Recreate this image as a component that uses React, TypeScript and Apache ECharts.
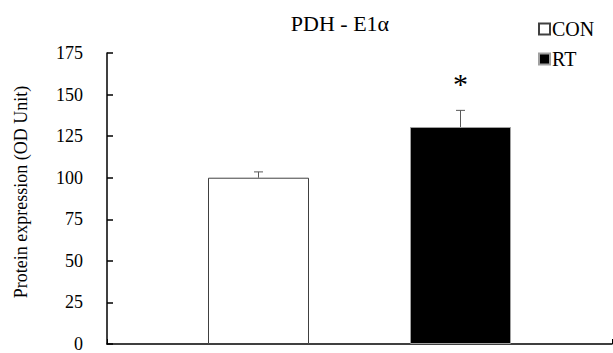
import React, { useEffect, useRef } from "react";
import * as echarts from "echarts";

const groups = ["CON", "RT"];
const means = [100, 130.5];
const errors = [3.5, 10];
const significant = [false, true];
const yMin = 0;
const yMax = 175;
const yStep = 25;
const titleText = "PDH - E1α";
const yName = "Protein expression (OD Unit)";

const FONT = "Liberation Serif";

export default function App() {
  const ref = useRef<HTMLDivElement>(null);
  useEffect(() => {
    if (!ref.current) return;
    const chart = echarts.init(ref.current, undefined, { renderer: "svg" });
    const fills = ["#ffffff", "#000000"];
    const borders = ["#404040", "#a0a0a0"];
    const barSeries = groups.map((g, i) => ({
      name: g,
      type: "bar",
      data: [means[i]],
      barWidth: "20%",
      barGap: "100%",
      itemStyle: { color: fills[i], borderColor: borders[i], borderWidth: 1 },
    }));
    const errSeries = {
      type: "custom",
      silent: true,
      data: groups.map((g, i) => [0, means[i], errors[i], i]),
      encode: { x: 0, y: 1 },
      z: 5,
      renderItem: (params: any, api: any) => {
        const idx = api.value(3);
        const mean = api.value(1);
        const err = api.value(2);
        const band = api.size([1, 0])[0];
        const offset = (idx === 0 ? -1 : 1) * band * 0.2;
        const base = api.coord([0, mean]);
        const top = api.coord([0, mean + err]);
        const x = base[0] + offset;
        const children: any[] = [
          {
            type: "line",
            shape: { x1: x, y1: base[1], x2: x, y2: top[1] },
            style: { stroke: "#595959", lineWidth: 1 },
          },
          {
            type: "line",
            shape: { x1: x - 4.5, y1: top[1], x2: x + 4.5, y2: top[1] },
            style: { stroke: "#595959", lineWidth: 1 },
          },
        ];
        if (significant[idx]) {
          children.push({
            type: "text",
            x: x,
            y: top[1] - 27,
            style: {
              text: "*",
              fontFamily: FONT,
              fontSize: 30,
              fill: "#000",
              align: "center",
              verticalAlign: "middle",
            },
          });
        }
        return { type: "group", children };
      },
    };
    chart.setOption({
      animation: false,
      title: {
        text: titleText,
        left: 335,
        top: 7,
        textAlign: "center",
        textStyle: { fontFamily: FONT, fontSize: 22, fontWeight: "normal", color: "#000" },
      },
      legend: {
        orient: "vertical",
        left: 533,
        top: 14,
        icon: "rect",
        itemWidth: 11,
        itemHeight: 11,
        itemGap: 10,
        data: groups,
        textStyle: { fontFamily: FONT, fontSize: 20, color: "#000", padding: [0, 0, 0, -3] },
      },
      grid: { left: 107, right: 1, top: 53, bottom: 7, containLabel: false },
      xAxis: {
        type: "category",
        data: [""],
        axisLine: { lineStyle: { color: "#000", width: 1.5 } },
        axisTick: { show: true, inside: true, length: 5, lineStyle: { color: "#000" } },
        axisLabel: { show: false },
      },
      yAxis: {
        type: "value",
        min: yMin,
        max: yMax,
        interval: yStep,
        axisLine: { show: true, lineStyle: { color: "#000", width: 1.5 } },
        axisTick: { show: true, inside: true, length: 6, lineStyle: { color: "#000", width: 1.5 } },
        splitLine: { show: false },
        axisLabel: { margin: 24, fontFamily: FONT, fontSize: 18, color: "#000" },
      },
      graphic: [
        {
          type: "text",
          x: 21,
          y: 192,
          rotation: Math.PI / 2,
          style: {
            text: yName,
            fontFamily: FONT,
            fontSize: 18,
            fill: "#000",
            align: "center",
            verticalAlign: "middle",
          },
        },
      ],
      series: [...barSeries, errSeries],
    } as any);
    return () => chart.dispose();
  }, []);
  return <div ref={ref} style={{ width: 613, height: 353, position: "absolute", left: 0, top: 0 }} />;
}
